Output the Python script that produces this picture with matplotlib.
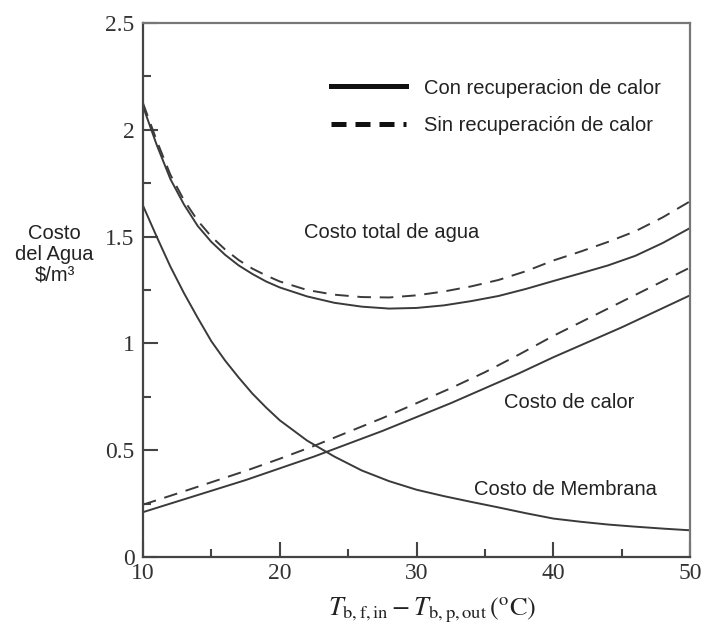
import matplotlib
matplotlib.use("Agg")
import matplotlib.pyplot as plt
from matplotlib.lines import Line2D
from matplotlib.ticker import MultipleLocator

# ---- data ----
x_total = [10, 11, 12, 13, 14, 15, 16, 17, 18, 19, 20, 22, 24, 26, 28, 30,
           32, 34, 36, 38, 40, 42, 44, 46, 48, 50]
total_con = [2.11, 1.93, 1.77, 1.65, 1.55, 1.475, 1.415, 1.365, 1.325, 1.29, 1.262,
             1.22, 1.19, 1.172, 1.163, 1.166, 1.178, 1.198, 1.222, 1.255, 1.292,
             1.328, 1.365, 1.41, 1.47, 1.54]
total_sin = [2.125, 1.95, 1.79, 1.67, 1.575, 1.50, 1.44, 1.39, 1.35, 1.318, 1.29,
             1.25, 1.228, 1.217, 1.215, 1.225, 1.243, 1.267, 1.297, 1.338, 1.388,
             1.43, 1.475, 1.525, 1.59, 1.665]

x_memb = [10, 11, 12, 13, 14, 15, 16, 17, 18, 19, 20, 22, 24, 26, 28, 30,
          32, 34, 36, 38, 40, 42, 44, 46, 48, 50]
membrana = [1.645, 1.50, 1.36, 1.235, 1.12, 1.01, 0.92, 0.84, 0.765, 0.70, 0.64,
            0.545, 0.47, 0.405, 0.355, 0.315, 0.285, 0.258, 0.232, 0.205, 0.18,
            0.165, 0.152, 0.142, 0.133, 0.125]

x_calor = [10, 12.5, 15, 17.5, 20, 22.5, 25, 27.5, 30, 32.5, 35, 37.5, 40, 42.5, 45, 47.5, 50]
calor_con = [0.21, 0.26, 0.31, 0.36, 0.415, 0.47, 0.53, 0.59, 0.655, 0.72, 0.79,
             0.86, 0.935, 1.005, 1.075, 1.15, 1.225]
calor_sin = [0.245, 0.297, 0.35, 0.403, 0.46, 0.52, 0.585, 0.65, 0.72, 0.79, 0.865,
             0.948, 1.035, 1.115, 1.195, 1.275, 1.355]

x_ticks = [10, 20, 30, 40, 50]
y_ticks = [0, 0.5, 1, 1.5, 2, 2.5]
y_tick_labels = ["0", "0.5", "1", "1.5", "2", "2.5"]

legend_labels = ["Con recuperacion de calor", "Sin recuperación de calor"]
# ---------------------------------------

LC = "#3a3a3a"
LW = 1.4
DASH = (7, 4.5)
SANS = ["Liberation Sans", "DejaVu Sans"]
SERIF = ["Liberation Serif", "DejaVu Serif"]
plt.rcParams["mathtext.fontset"] = "stix"

fig = plt.figure(figsize=(7.11, 6.25), dpi=100)
ax = fig.add_axes([0.2011, 0.1088, 0.9705 - 0.2011, 0.9632 - 0.1088])

ax.plot(x_total, total_con, color=LC, lw=LW)
ax.plot(x_total, total_sin, color=LC, lw=LW, linestyle=(0, DASH))
ax.plot(x_memb, membrana, color=LC, lw=LW)
ax.plot(x_calor, calor_con, color=LC, lw=LW)
ax.plot(x_calor, calor_sin, color=LC, lw=LW, linestyle=(0, DASH))

ax.set_xlim(10, 50)
ax.set_ylim(0, 2.5)
ax.set_xticks(x_ticks)
ax.set_yticks(y_ticks)
ax.set_yticklabels(y_tick_labels)
ax.xaxis.set_minor_locator(MultipleLocator(5))
ax.yaxis.set_minor_locator(MultipleLocator(0.25))
ax.tick_params(which="major", direction="in", length=11, width=1.5, color="#444",
               top=False, right=False, labelsize=17, labelcolor="#333")
ax.tick_params(which="minor", direction="in", length=5.5, width=1.5, color="#444",
               top=False, right=False)
for lab in ax.get_xticklabels() + ax.get_yticklabels():
    lab.set_family(SERIF)
ax.tick_params(axis="x", pad=4)
ax.tick_params(axis="y", pad=6)

for side in ["left", "bottom"]:
    ax.spines[side].set_color("#444")
    ax.spines[side].set_linewidth(1.6)
for side in ["top", "right"]:
    ax.spines[side].set_color("#777")
    ax.spines[side].set_linewidth(1.6)

ax.set_xlabel(r"$T_{\mathrm{b,f,in}} - T_{\mathrm{b,p,out}}\,(^{\mathrm{o}}\mathrm{C})$",
              fontsize=19, color="#222")
ax.xaxis.set_label_coords(0.528, -0.073)

fig.text(0.077, 0.593, "Costo\ndel Agua\n\\$/m³", ha="center", va="center",
         fontsize=14.5, family=SANS, color="#222", linespacing=1.1)

ax.text(28.2, 1.52, "Costo total de agua", fontsize=14.5, family=SANS, color="#222",
        ha="center", va="center")
ax.text(41.2, 0.724, "Costo de calor", fontsize=14.5, family=SANS, color="#222",
        ha="center", va="center")
ax.text(40.9, 0.318, "Costo de Membrana", fontsize=14.5, family=SANS, color="#222",
        ha="center", va="center")

handles = [Line2D([], [], color="#111", lw=3.6),
           Line2D([], [], color="#111", lw=3.6, linestyle=(0, (3, 1.8)))]
leg = ax.legend(handles, legend_labels, loc="upper right", bbox_to_anchor=(0.98, 0.93),
                frameon=False, handlelength=3.7, handletextpad=0.9, labelspacing=0.9,
                borderpad=0.4, prop={"family": SANS, "size": 14.5})
for t in leg.get_texts():
    t.set_color("#222")

fig.savefig("out.png", dpi=100)
